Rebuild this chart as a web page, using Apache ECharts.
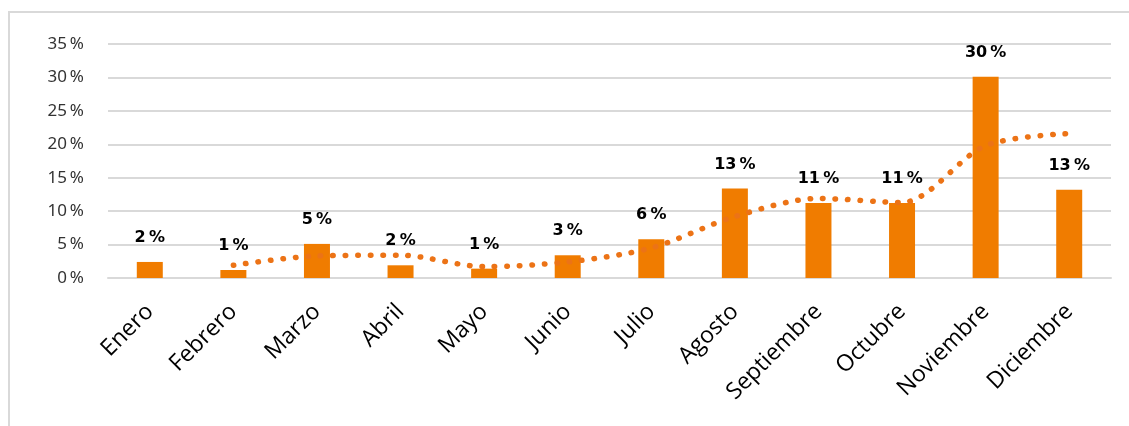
<!DOCTYPE html>
<html>
<head>
<meta charset="utf-8">
<script src="https://cdn.jsdelivr.net/npm/echarts@6/dist/echarts.min.js"></script>
<style>
  html, body { margin: 0; padding: 0; background: #fff; }
  #frame {
    position: absolute; left: 8px; top: 11px; width: 1140px; height: 440px;
    border-left: 2px solid #d9d9d9; border-top: 2px solid #d9d9d9;
  }
  #chart { position: absolute; left: 0; top: 0; width: 1129px; height: 426px; }
</style>
</head>
<body>
<div id="frame"></div>
<div id="chart"></div>
<script>
const months = ["Enero", "Febrero", "Marzo", "Abril", "Mayo", "Junio",
  "Julio", "Agosto", "Septiembre", "Octubre", "Noviembre", "Diciembre"];
// porcentaje mensual (barras)
const share = [2.4, 1.2, 5.1, 1.9, 1.4, 3.4, 5.8, 13.4, 11.2, 11.2, 30.1, 13.2];
// linea de tendencia (media movil)
const trend = [null, 1.9, 3.3, 3.4, 1.7, 2.4, 4.5, 9.2, 11.9, 11.3, 19.8, 21.6];
const yTicks = [0, 5, 10, 15, 20, 25, 30, 35];

const chart = echarts.init(document.getElementById("chart"));
const option = {
  animation: false,
  grid: { left: 108, right: 18, top: 44, bottom: 148 },
  xAxis: {
    type: "category",
    data: months,
    axisLine: { lineStyle: { color: "#d9d9d9", width: 2 } },
    axisTick: { show: false },
    axisLabel: {
      rotate: 45,
      interval: 0,
      margin: 30,
      color: "#000",
      fontSize: 23,
      fontFamily: "Open Sans"
    }
  },
  yAxis: {
    type: "value",
    min: yTicks[0],
    max: yTicks[yTicks.length - 1],
    interval: 5,
    axisLine: { show: false },
    axisTick: { show: false },
    splitLine: { lineStyle: { color: "#d9d9d9", width: 2 } },
    axisLabel: {
      margin: 24,
      color: "#333",
      fontSize: 17,
      fontFamily: "Noto Sans",
      formatter: "{value}\u2009%"
    }
  },
  series: [
    {
      type: "bar",
      data: share,
      barWidth: 26,
      itemStyle: { color: "#F07C00" },
      label: {
        show: true,
        position: "top",
        distance: 16,
        color: "#000",
        fontSize: 16,
        fontWeight: "bold",
        fontFamily: "DejaVu Sans",
        formatter: p => Math.round(p.value) + "\u2009%"
      }
    },
    {
      type: "line",
      data: trend,
      smooth: 0.3,
      symbol: "none",
      z: 3,
      lineStyle: {
        color: "#EC7316",
        width: 5.5,
        type: [0.5, 12],
        cap: "round"
      }
    }
  ]
};
chart.setOption(option);
</script>
</body>
</html>
